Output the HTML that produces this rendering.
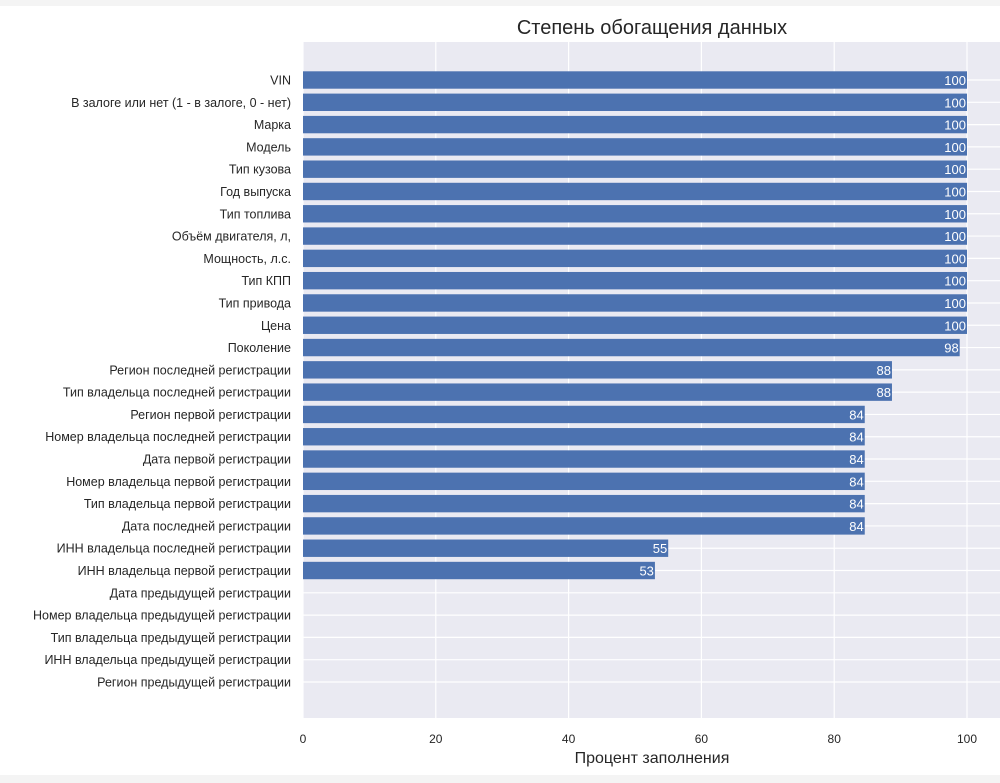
<!DOCTYPE html>
<html><head><meta charset="utf-8"><style>
html,body{margin:0;padding:0;background:#f4f4f4;}
svg{display:block;font-family:"Liberation Sans",Arial,sans-serif;}
</style></head><body>
<svg id="chart" width="1000" height="783" xmlns="http://www.w3.org/2000/svg">
<rect x="0" y="6" width="1000" height="769" fill="#ffffff"/>
<text x="652" y="34" text-anchor="middle" font-size="20" fill="#262626">Степень обогащения данных</text>
<g id="plot"></g>
<text x="652" y="763" text-anchor="middle" font-size="16" fill="#262626">Процент заполнения</text>
</svg>
<script>
const categories = ["VIN","В залоге или нет (1 - в залоге, 0 - нет)","Марка","Модель","Тип кузова","Год выпуска","Тип топлива","Объём двигателя, л,","Мощность, л.с.","Тип КПП","Тип привода","Цена","Поколение","Регион последней регистрации","Тип владельца последней регистрации","Регион первой регистрации","Номер владельца последней регистрации","Дата первой регистрации","Номер владельца первой регистрации","Тип владельца первой регистрации","Дата последней регистрации","ИНН владельца последней регистрации","ИНН владельца первой регистрации","Дата предыдущей регистрации","Номер владельца предыдущей регистрации","Тип владельца предыдущей регистрации","ИНН владельца предыдущей регистрации","Регион предыдущей регистрации"];
const values = [100,100,100,100,100,100,100,100,100,100,100,100,98.9,88.7,88.7,84.6,84.6,84.6,84.6,84.6,84.6,55.0,53.0,0,0,0,0,0];
const xTicks = [0,20,40,60,80,100];

const NS="http://www.w3.org/2000/svg";
const L=303,R=1000,T=42,B=718;
const xS=v=>L+v*(967-L)/100;
const yS=i=>80+i*(682-80)/27;
const step=(682-80)/27, bh=step*0.78;
const g=document.getElementById('plot');
function mk(t,a){const e=document.createElementNS(NS,t);for(const k in a)e.setAttribute(k,a[k]);g.appendChild(e);return e;}
const bg=mk('rect',{x:L,y:T,width:R-L,height:B-T,fill:'#eaeaf2'});


xTicks.forEach(v=>{
  const l=mk('line',{x1:xS(v),x2:xS(v),y1:T,y2:B,stroke:'#fff','stroke-width':1.2});
  
  
  const t=mk('text',{x:xS(v),y:743,'text-anchor':'middle','font-size':12,fill:'#262626'});
  t.textContent=v;
  
  
});
categories.forEach((c,i)=>{
  const l=mk('line',{x1:L,x2:R,y1:yS(i),y2:yS(i),stroke:'#fff','stroke-width':1.2});
  
  
});
categories.forEach((c,i)=>{
  const y=yS(i);
  const t=mk('text',{x:291,y:y+4.5,'text-anchor':'end','font-size':12.5,fill:'#262626'});
  t.textContent=c;
  
  
  const v=values[i];
  if(v>0){
    const r=mk('rect',{x:L,y:y-bh/2,width:xS(v)-L,height:bh,fill:'#4c72b0'});
    
    
    const vt=mk('text',{x:xS(v)-1,y:y+5,'text-anchor':'end','font-size':13,fill:'#fff'});
    vt.textContent=Math.floor(v);
    
    
  }
});
</script>
</body></html>
